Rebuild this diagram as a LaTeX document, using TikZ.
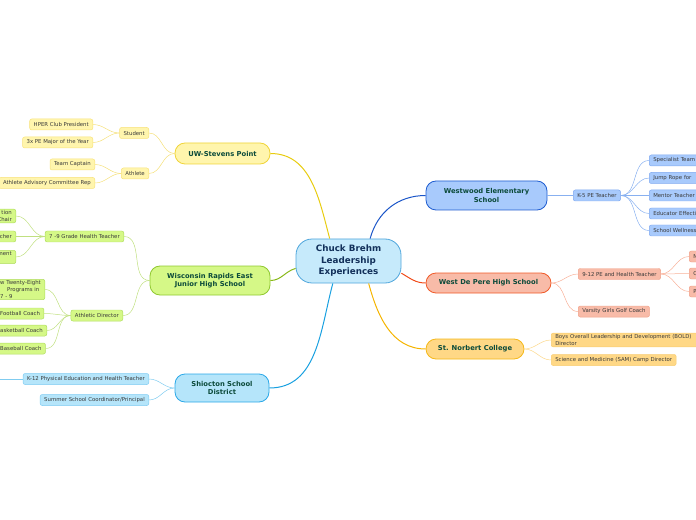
\documentclass[tikz,border=0pt]{standalone}
\usepackage{fontspec}
\setmainfont{DejaVu Sans}
\usetikzlibrary{positioning}
\definecolor{hubfill}{HTML}{C6EAFB}
\definecolor{hubline}{HTML}{4FA6DC}
\definecolor{hubtext}{HTML}{12305A}
\definecolor{branchtext}{HTML}{0B4A3A}
\definecolor{leaftext}{HTML}{3A3A3A}
\definecolor{yfill}{HTML}{FFF5AD}\definecolor{yline}{HTML}{F0D438}\definecolor{yleafline}{HTML}{F8E27A}\definecolor{ylink}{HTML}{E8CC10}\definecolor{ytwig}{HTML}{F5E07A}
\definecolor{gfill}{HTML}{D5F887}\definecolor{gline}{HTML}{90C830}\definecolor{gleafline}{HTML}{B0DD60}\definecolor{glink}{HTML}{88B818}\definecolor{gtwig}{HTML}{C0E080}
\definecolor{cfill}{HTML}{B5E5FA}\definecolor{cline}{HTML}{2AA8E8}\definecolor{cleafline}{HTML}{7FCCF2}\definecolor{clink}{HTML}{18A0E0}\definecolor{ctwig}{HTML}{80CCF0}
\definecolor{bfill}{HTML}{A8CAFC}\definecolor{bline}{HTML}{1E5CD0}\definecolor{bleafline}{HTML}{7FA8F0}\definecolor{blink}{HTML}{1A55C8}\definecolor{btwig}{HTML}{88B0F0}
\definecolor{rfill}{HTML}{F8BBA8}\definecolor{rline}{HTML}{F05A28}\definecolor{rleafline}{HTML}{F0A088}\definecolor{rlink}{HTML}{F04A18}\definecolor{rtwig}{HTML}{F8B098}
\definecolor{ofill}{HTML}{FFD886}\definecolor{oline}{HTML}{F5B818}\definecolor{oleafline}{HTML}{F8CC70}\definecolor{olink}{HTML}{F5B400}\definecolor{otwig}{HTML}{FCD88A}
\tikzstyle{hub}=[draw=hubline,fill=hubfill,line width=0.8pt,rounded corners=16bp,minimum width=105bp,minimum height=44bp,align=center,text=hubtext,font=\bfseries\fontsize{8.8}{11.5}\selectfont]
\tikzstyle{branch}=[line width=0.8pt,rounded corners=10bp,align=center,inner sep=0pt,text=branchtext,font=\bfseries\fontsize{6.8}{8.6}\selectfont]
\tikzstyle{leaf}=[line width=0.5pt,rounded corners=2bp,minimum height=11bp,inner xsep=4bp,inner ysep=1.5bp,text=leaftext,font=\fontsize{5.4}{6.6}\selectfont]
\tikzstyle{yleaf}=[leaf,draw=yleafline,fill=yfill]
\tikzstyle{gleaf}=[leaf,draw=gleafline,fill=gfill]
\tikzstyle{cleaf}=[leaf,draw=cleafline,fill=cfill]
\tikzstyle{bleaf}=[leaf,draw=bleafline,fill=bfill]
\tikzstyle{rleaf}=[leaf,draw=rleafline,fill=rfill]
\tikzstyle{oleaf}=[leaf,draw=oleafline,fill=ofill]
\tikzstyle{edgeleaf}=[gleaf,anchor=west,xshift=-4bp,align=left]
\tikzstyle{trunk}=[draw,line width=1pt]
\tikzstyle{twig}=[draw,line width=0.5pt]
\begin{document}
\begin{tikzpicture}[x=1bp,y=-1bp]
    \useasboundingbox (0,0) rectangle (696,520);

    \node[hub] (hub) at (348.5,261) {Chuck Brehm\\Leadership\\Experiences};

    % main branches
    \node[branch,draw=yline,fill=yfill,minimum width=95bp,minimum height=21bp] (uwsp) at (222.5,153.5) {UW-Stevens Point};
    \node[branch,draw=gline,fill=gfill,minimum width=120bp,minimum height=29bp] (wree) at (210,280.5) {Wisconsin Rapids East\\Junior High School};
    \node[branch,draw=cline,fill=cfill,minimum width=94bp,minimum height=28bp] (shio) at (222,388) {Shiocton School\\District};
    \node[branch,draw=bline,fill=bfill,minimum width=121bp,minimum height=29bp] (west) at (486.5,195.5) {Westwood Elementary\\School};
    \node[branch,draw=rline,fill=rfill,minimum width=125bp,minimum height=20bp] (depe) at (488.5,283) {West De Pere High School};
    \node[branch,draw=oline,fill=ofill,minimum width=98bp,minimum height=20bp] (snc) at (475,349) {St. Norbert College};

    \path[trunk,draw=ylink] (hub.130) to[out=105,in=0] (uwsp.east);
    \path[trunk,draw=glink] (hub.188) to[out=195,in=0] (wree.east);
    \path[trunk,draw=clink] (hub.235) to[out=255,in=0] (shio.east);
    \path[trunk,draw=blink] (hub.46) to[out=75,in=180] (west.west);
    \path[trunk,draw=rlink] (hub.-13) to[out=-30,in=180] (depe.west);
    \path[trunk,draw=olink] (hub.-48) to[out=-75,in=180] (snc.west);

    % UW-Stevens Point
    \foreach \pos/\name/\label in {{(149,133)/student/Student}, {(149,173.5)/athlete/Athlete}}
        \node[yleaf,anchor=east] (\name) at \pos {\label};
    \foreach \pos/\name/\label in {{(93,124.5)/hper/HPER Club President}, {(93,142.5)/major/3x PE Major of the Year},
                                   {(95,164.5)/captain/Team Captain}, {(95,183)/advisory/Athlete Advisory Committee Rep}}
        \node[yleaf,anchor=east] (\name) at \pos {\label};
    \foreach \dest in {student, athlete}
        \path[twig,draw=ytwig] (uwsp.west) to[out=180,in=0] (\dest.east);
    \foreach \source/\dest in {student/hper, student/major, athlete/captain, athlete/advisory}
        \path[twig,draw=ytwig] (\source.west) to[out=180,in=0] (\dest.east);

    % Wisconsin Rapids East
    \node[gleaf,anchor=east] (health) at (124,236.5) {7 -9 Grade Health Teacher};
    \node[gleaf,anchor=east] (ad) at (123,315.5) {Athletic Director};
    \node[gleaf,anchor=east,text width=40bp,align=right] (chair) at (16,216) {tion\\Chair};
    \node[gleaf,anchor=east,text width=40bp,align=right] (teacher) at (16,236.5) {cher};
    \node[gleaf,anchor=east,text width=40bp,align=right] (ment) at (16,257) {ment\\\mbox{}};
    \node[edgeleaf] (grew) at (0,289.5) {w Twenty-Eight\\\hspace*{7bp}Programs in\\7 - 9};
    \foreach \pos/\name/\label in {{(0,313.5)/football/Football Coach}, {(0,330.5)/basket/asketball Coach}, {(0,348.5)/baseball/Baseball Coach}}
        \node[edgeleaf] (\name) at \pos {\label};
    \foreach \dest in {health, ad}
        \path[twig,draw=gtwig] (wree.west) to[out=180,in=0] (\dest.east);
    \foreach \source/\dest in {health/chair, health/teacher, health/ment, ad/grew, ad/football, ad/basket, ad/baseball}
        \path[twig,draw=gtwig] (\source.west) to[out=180,in=0] (\dest.east);

    % Shiocton
    \node[cleaf,anchor=east] (k12) at (149,379) {K-12 Physical Education and Health Teacher};
    \node[cleaf,anchor=east] (summer) at (149,400) {Summer School Coordinator/Principal};
    \coordinate (offpage) at (-30,379);
    \foreach \dest in {k12, summer}
        \path[twig,draw=ctwig] (shio.west) to[out=180,in=0] (\dest.east);
    \path[twig,draw=ctwig] (k12.west) -- (offpage);

    % Westwood
    \node[bleaf,anchor=west] (k5) at (573,195.5) {K-5 PE Teacher};
    \foreach \pos/\name/\label in {{(649,160.5)/team/Specialist Team}, {(649,178)/rope/Jump Rope for}, {(649,195.5)/mentor/Mentor Teacher},
                                   {(649,213.5)/effect/Educator Effecti}, {(649,230.5)/well/School Wellness}}
        \node[bleaf,anchor=west,text width=60bp,align=left] (\name) at \pos {\label};
    \path[twig,draw=btwig] (west.east) -- (k5.west);
    \foreach \dest in {team, rope, mentor, effect, well}
        \path[twig,draw=btwig] (k5.east) to[out=0,in=180] (\dest.west);

    % West De Pere
    \node[rleaf,anchor=west] (pe) at (578,274) {9-12 PE and Health Teacher};
    \node[rleaf,anchor=west] (golf) at (578,311.5) {Varsity Girls Golf Coach};
    \foreach \pos/\name/\label in {{(689,256.5)/pn/N}, {(689,273.5)/pc/C}, {(689,291.5)/pp/P}}
        \node[rleaf,anchor=west,text width=20bp,align=left] (\name) at \pos {\label};
    \foreach \dest in {pe, golf}
        \path[twig,draw=rtwig] (depe.east) to[out=0,in=180] (\dest.west);
    \foreach \dest in {pn, pc, pp}
        \path[twig,draw=rtwig] (pe.east) to[out=0,in=180] (\dest.west);

    % St. Norbert
    \node[oleaf,anchor=west,text width=150bp,align=left] (bold) at (551,340) {Boys Overall Leadership and Development (BOLD)\\Director};
    \node[oleaf,anchor=west] (sam) at (551,360) {Science and Medicine (SAM) Camp Director};
    \foreach \dest in {bold, sam}
        \path[twig,draw=otwig] (snc.east) to[out=0,in=180] (\dest.west);

\end{tikzpicture}
\end{document}
